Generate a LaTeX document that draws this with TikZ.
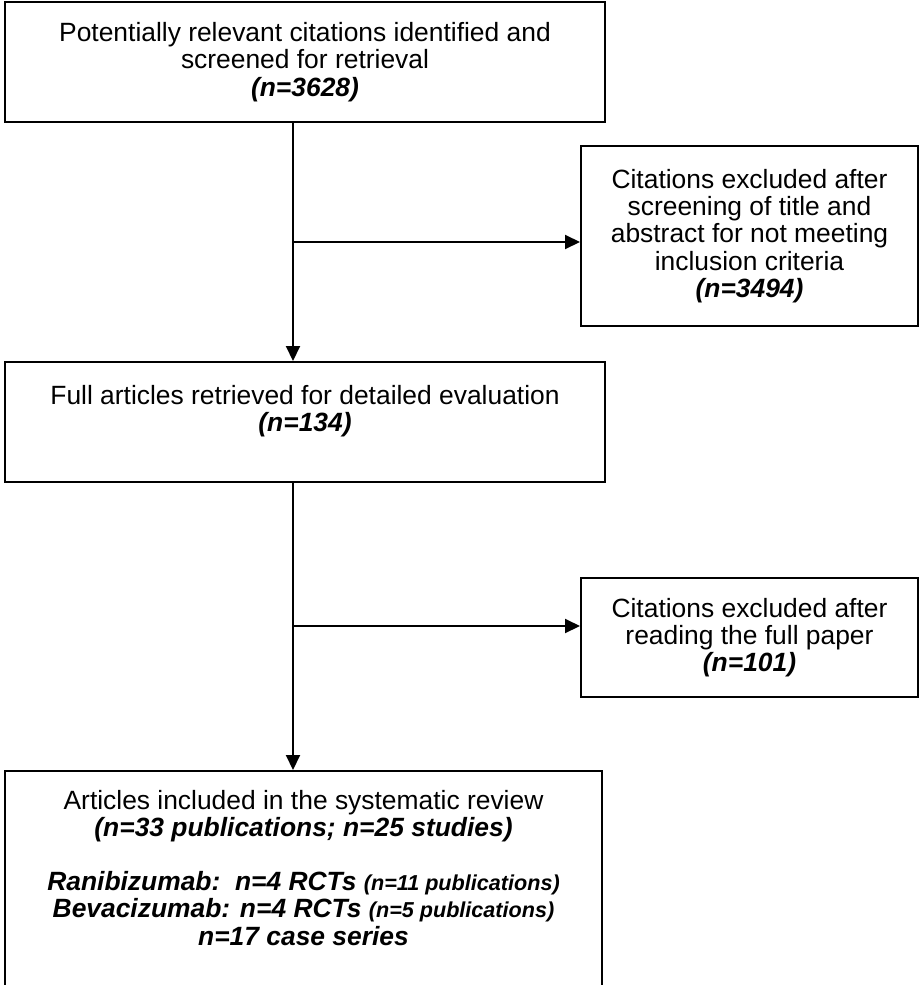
\documentclass[tikz,border=0pt]{standalone}
\usepackage{fontspec}
\setmainfont{Liberation Sans}
\usetikzlibrary{arrows.meta}

\begin{document}
\begin{tikzpicture}[x=0.5pt,y=-0.5pt]

% ------------------------------------------------ flow chart styles
\tikzset{
  box/.style={draw,line width=1pt,align=center,inner sep=0pt,
              font=\fontsize{13.2}{13.6}\selectfont},
  flow/.style={line width=1pt,-{Triangle[length=7.5pt,width=7pt]}}
}
\newcommand{\cnt}[1]{\textbf{\textit{#1}}}
\newcommand{\sml}[1]{{\fontsize{10.8}{13.6}\selectfont\textbf{\textit{#1}}}}

\clip (0,0) rectangle (919,985);

\node[box,minimum width=300pt,minimum height=60pt] (screen) at (305,62)
  {Potentially relevant citations identified and\\screened for retrieval\\\cnt{(n=3628)}};
\node[box,minimum width=168.5pt,minimum height=90pt] (excl1) at (749.5,236)
  {Citations excluded after\\screening of title and\\abstract for not meeting\\inclusion criteria\\\cnt{(n=3494)}};
\node[box,minimum width=300pt,minimum height=60pt] (full) at (305,422)
  {Full articles retrieved for detailed evaluation\\\cnt{(n=134)}\\\mbox{}};
\node[box,minimum width=168.5pt,minimum height=59.5pt] (excl2) at (749.5,637.5)
  {Citations excluded after\\reading the full paper\\\cnt{(n=101)}};
\node[box,anchor=north,minimum width=298.5pt,inner ysep=9.5pt] (incl) at (303.5,770)
  {Articles included in the systematic review\\\cnt{(n=33 publications; n=25 studies)}\\[13.6pt]
   \cnt{Ranibizumab:\ \ n=4 RCTs} \sml{(n=11 publications)}\\
   \cnt{Bevacizumab: n=4 RCTs} \sml{(n=5 publications)}\\
   \cnt{n=17 case series}\\[30pt]\mbox{}};

% ------------------------------------------------ connectors
\coordinate (trunk) at (293,0);
\coordinate (fork1) at (293,242);
\coordinate (fork2) at (293,626);

\draw[flow] (screen.south -| trunk) -- (full.north -| trunk);
\draw[flow] (fork1) -- (fork1 -| excl1.west);
\draw[flow] (full.south -| trunk) -- (incl.north -| trunk);
\draw[flow] (fork2) -- (fork2 -| excl2.west);

\end{tikzpicture}
\end{document}
